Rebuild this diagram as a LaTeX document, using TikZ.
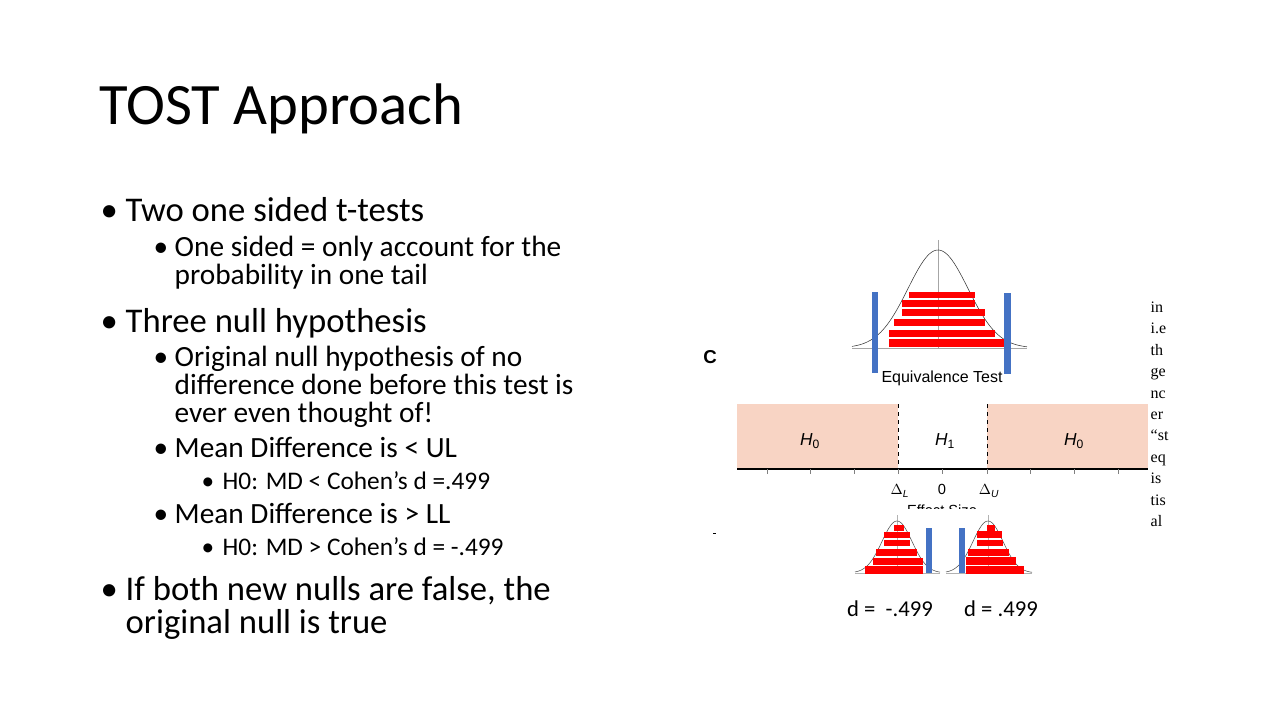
\documentclass[tikz,border=0pt]{standalone}
\usepackage{fontspec}
\setmainfont{Carlito}
\newfontfamily\serifpart{Liberation Serif}
\newfontfamily\helv{Liberation Sans}
\usetikzlibrary{positioning}
\definecolor{barred}{RGB}{255,0,0}
\definecolor{barblue}{RGB}{68,114,196}
\definecolor{nullfill}{RGB}{248,212,196}
\tikzset{
  lvla/.style={anchor=base west,font=\fontsize{26}{31}\selectfont},
  lvlb/.style={anchor=base west,font=\fontsize{22}{26}\selectfont},
  lvlc/.style={anchor=base west,font=\fontsize{19}{22}\selectfont},
  figtext/.style={font=\helv\fontsize{11}{13}\selectfont},
}
\newcommand{\redbar}[4]{\fill[barred] (#1,#3) rectangle (#2,#4);}
\newcommand{\bul}[3]{\node[#1] at (#2) {\textbullet}; \node[#1] at (#3)}
\begin{document}
\begin{tikzpicture}[x=0.75pt,y=-0.75pt]
\useasboundingbox (0,0) rectangle (1280,720);
% title and bullets
\node[anchor=base west,font=\fontsize{44}{50}\selectfont] (title) at (95,125) {TOST Approach};
\bul{lvla}{96,222}{121,222} (b1) {Two one sided t-tests};
\bul{lvlb}{149,256}{170,256} (b1a) {One sided = only account for the};
\node[lvlb] (b1b) at (170,284) {probability in one tail};
\bul{lvla}{96,332}{121,332} (b2) {Three null hypothesis};
\bul{lvlb}{149,366}{170,366} (b2a) {Original null hypothesis of no};
\node[lvlb] (b2b) at (170,394) {difference done before this test is};
\node[lvlb] (b2c) at (170,422) {ever even thought of!};
\bul{lvlb}{149,457}{170,457} (b2d) {Mean Difference is < UL};
\bul{lvlc}{197,489}{218,489} (b2e) {H0: MD < Cohen’s d =.499};
\bul{lvlb}{149,523}{170,523} (b2f) {Mean Difference is > LL};
\bul{lvlc}{197,555}{218,555} (b2g) {H0: MD > Cohen’s d = -.499};
\bul{lvla}{96,600}{121,600} (b3) {If both new nulls are false, the};
\node[lvla] (b3b) at (121,633) {original null is true};
% top distribution
\draw[gray!70] (852,348) -- (1027,348);
\draw[gray!70] (938,240) -- (938,348);
\draw[black!80,domain=852:1027,samples=80] plot (\x,{348-98*exp(-((\x-938)/30)^2/2)});
\redbar{909}{975}{292}{298}
\redbar{902}{975}{300}{307}
\redbar{902}{985}{309}{316}
\redbar{894}{985}{319}{326}
\redbar{889}{995}{330}{337}
\redbar{889}{1008}{339}{347}
\fill[barblue] (872,292) rectangle (878,373);
\fill[barblue] (1004,293) rectangle (1011,374);
\node[font=\helv\fontsize{12}{14}\selectfont] (eqt) at (942,378) {Equivalence Test};
\node[font=\helv\bfseries\fontsize{14}{16}\selectfont] (panel) at (710,357) {C};
% regions
\fill[nullfill] (737,404) rectangle (898,468);
\fill[nullfill] (987,404) rectangle (1148,468);
\draw[dashed] (898,404) -- (898,469);
\draw[dashed] (987,404) -- (987,469);
\draw[thick] (737,469) -- (1148,469);
\foreach \t in {767,810,854,898,942,987,1030,1074,1118}
  \draw[gray] (\t,469) -- (\t,474);
\node[figtext] (hl) at (810,441) {\helv\fontsize{13}{15}\selectfont\textit{H}\textsubscript{0}};
\node[figtext] (hm) at (945,441) {\helv\fontsize{13}{15}\selectfont\textit{H}\textsubscript{1}};
\node[figtext] (hr) at (1074,441) {\helv\fontsize{13}{15}\selectfont\textit{H}\textsubscript{0}};
\node[figtext] (dl) at (900,491) {$\Delta$\textsubscript{\textit{L}}};
\node[figtext] (zero) at (942,489) {0};
\node[figtext] (du) at (989,491) {$\Delta$\textsubscript{\textit{U}}};
\begin{scope}
\clip (850,500) rectangle (1040,508);
\node[figtext] (es) at (942,510) {Effect Size};
\end{scope}
\draw (713,533) -- (716,533);
% lower left distribution
\draw[gray!60] (855,573) -- (940,573);
\draw[gray!60] (897,515) -- (897,573);
\draw[black!70,domain=855:940,samples=60] plot (\x,{573-52*exp(-((\x-897)/15)^2/2)});
\redbar{894}{904}{525}{531}
\redbar{884}{910}{532}{538}
\redbar{884}{910}{540}{546}
\redbar{876}{917}{549}{556}
\redbar{873}{923}{558}{565}
\redbar{865}{923}{566}{574}
\fill[barblue] (926,528) rectangle (932,573);
% lower right distribution
\draw[gray!60] (946,573) -- (1032,573);
\draw[gray!60] (988,515) -- (988,573);
\draw[black!70,domain=946:1032,samples=60] plot (\x,{573-52*exp(-((\x-988)/15)^2/2)});
\redbar{987}{995}{525}{531}
\redbar{977}{1002}{531}{538}
\redbar{977}{1003}{540}{546}
\redbar{968}{1009}{549}{556}
\redbar{966}{1016}{557}{565}
\redbar{966}{1024}{566}{574}
\fill[barblue] (959,528) rectangle (965,573);
\node[font=\fontsize{17}{20}\selectfont] (dneg) at (890,609) {d = \ -.499};
\node[font=\fontsize{17}{20}\selectfont] (dpos) at (1001,609) {d = .499};
% cut text at the right
\begin{scope}
\clip (1140,290) rectangle (1192,540);
\foreach \w [count=\i] in {in,i.e,th,ge,nc,er,“st,eq,is,tis,al}
  \node[anchor=base west,font=\serifpart\fontsize{12}{14}\selectfont] at (1146,{291+21.4*\i}) {\w};
\end{scope}
\end{tikzpicture}
\end{document}
